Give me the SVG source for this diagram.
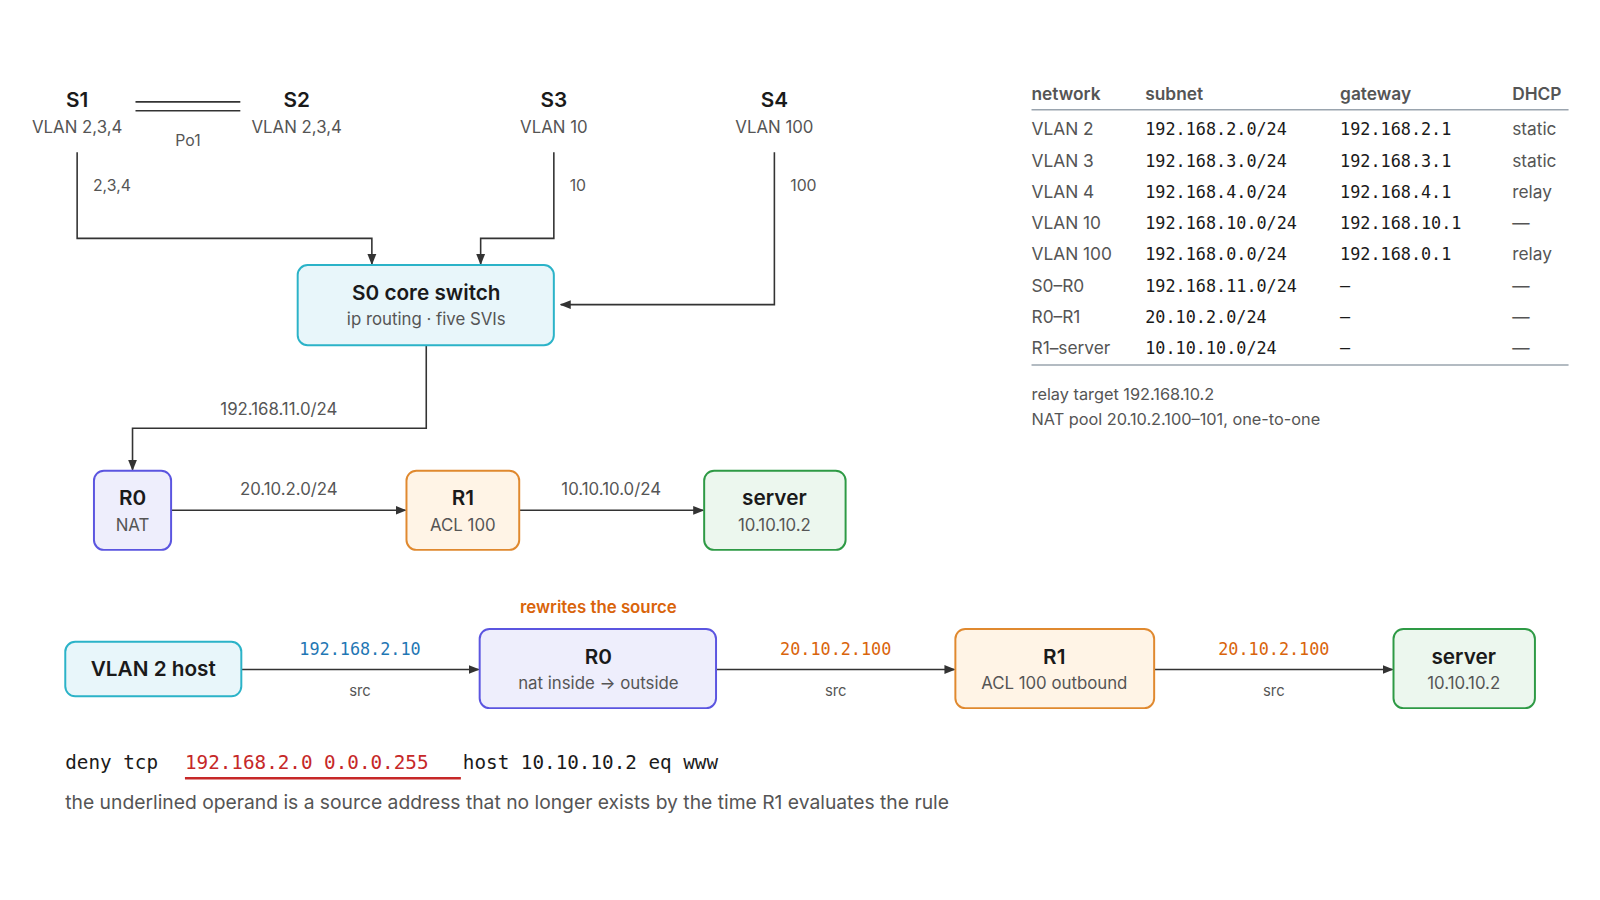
<svg xmlns="http://www.w3.org/2000/svg" width="1600" height="900" viewBox="0 0 1600 900">
<style>
text{font-family:Inter,"Noto Sans",sans-serif;fill:#333}
.t{font-size:21px;font-weight:600;fill:#1a1a1a;text-anchor:middle}
.s{font-size:17px;fill:#555;text-anchor:middle}
.l{font-size:16px;fill:#555}
.m{font-family:"DejaVu Sans Mono",monospace;font-size:17px;fill:#1a1a1a}
.tb{font-size:17.5px;fill:#555}
.th{font-size:17.5px;font-weight:600;fill:#555}
.c{fill:none;stroke:#333;stroke-width:1.6}
</style>
<defs><marker id="a" viewBox="0 0 10 10" refX="9" refY="5" markerWidth="7" markerHeight="7" orient="auto"><path d="M0,1L10,5L0,9z" fill="#333"/></marker></defs>
<rect width="1600" height="900" fill="#fff"/>
<g transform="scale(0.989)">
<g id="connectors">
<line x1="137" y1="103" x2="243" y2="103" class="c"/><line x1="137" y1="112" x2="243" y2="112" class="c"/>
<polyline points="78,154 78,241 376,241 376,267" class="c" marker-end="url(#a)"/>
<polyline points="560,154 560,241 486,241 486,267" class="c" marker-end="url(#a)"/>
<polyline points="783,154 783,308 567,308" class="c" marker-end="url(#a)"/>
<polyline points="431,349 431,433 134,433 134,475" class="c" marker-end="url(#a)"/>
<line x1="173" y1="516" x2="410" y2="516" class="c" marker-end="url(#a)"/>
<line x1="525" y1="516" x2="711" y2="516" class="c" marker-end="url(#a)"/>
<line x1="244" y1="677" x2="484" y2="677" class="c" marker-end="url(#a)"/>
<line x1="724" y1="677" x2="965" y2="677" class="c" marker-end="url(#a)"/>
<line x1="1167" y1="677" x2="1408" y2="677" class="c" marker-end="url(#a)"/>
<text x="190" y="148" class="s" style="font-size:16px">Po1</text>
<text x="94" y="193" class="l">2,3,4</text>
<text x="576" y="193" class="l">10</text>
<text x="799" y="193" class="l">100</text>
<text x="282" y="420" class="s">192.168.11.0/24</text>
<text x="292" y="501" class="s">20.10.2.0/24</text>
<text x="618" y="501" class="s">10.10.10.0/24</text>
<text x="364" y="662" class="m" text-anchor="middle" style="fill:#1f77b4">192.168.2.10</text>
<text x="845" y="662" class="m" text-anchor="middle" style="fill:#d9640b">20.10.2.100</text>
<text x="1288" y="662" class="m" text-anchor="middle" style="fill:#d9640b">20.10.2.100</text>
<text x="364" y="704" class="s" style="font-size:15px">src</text>
<text x="845" y="704" class="s" style="font-size:15px">src</text>
<text x="1288" y="704" class="s" style="font-size:15px">src</text>
</g>
<g id="S1"><text x="78" y="108" class="t">S1</text><text x="78" y="134" class="s">VLAN 2,3,4</text></g>
<g id="S2"><text x="300" y="108" class="t">S2</text><text x="300" y="134" class="s">VLAN 2,3,4</text></g>
<g id="S3"><text x="560" y="108" class="t">S3</text><text x="560" y="134" class="s">VLAN 10</text></g>
<g id="S4"><text x="783" y="108" class="t">S4</text><text x="783" y="134" class="s">VLAN 100</text></g>
<g id="S0"><rect x="301" y="268" width="259" height="81" rx="10" fill="#e8f6fa" stroke="#2bb3c8" stroke-width="2"/><text x="431" y="303" class="t">S0 core switch</text><text x="431" y="329" class="s">ip routing · five SVIs</text></g>
<g id="R0"><rect x="95" y="476" width="78" height="80" rx="10" fill="#eeeefc" stroke="#5b55e0" stroke-width="2"/><text x="134" y="511" class="t">R0</text><text x="134" y="537" class="s">NAT</text></g>
<g id="R1"><rect x="411" y="476" width="114" height="80" rx="10" fill="#fff4e6" stroke="#e0892f" stroke-width="2"/><text x="468" y="511" class="t">R1</text><text x="468" y="537" class="s">ACL 100</text></g>
<g id="server"><rect x="712" y="476" width="143" height="80" rx="10" fill="#ecf7ee" stroke="#2e9a45" stroke-width="2"/><text x="783" y="511" class="t">server</text><text x="783" y="537" class="s">10.10.10.2</text></g>
<g id="table">
<text x="1043" y="101" class="th">network</text><text x="1158" y="101" class="th">subnet</text><text x="1355" y="101" class="th">gateway</text><text x="1529" y="101" class="th">DHCP</text>
<line x1="1043" y1="111" x2="1586" y2="111" stroke="#9aa4ae" stroke-width="1.5"/>
<text x="1043" y="137" class="tb">VLAN 2</text><text x="1158" y="137" class="m">192.168.2.0/24</text><text x="1355" y="137" class="m">192.168.2.1</text><text x="1529" y="137" class="tb">static</text>
<text x="1043" y="169" class="tb">VLAN 3</text><text x="1158" y="169" class="m">192.168.3.0/24</text><text x="1355" y="169" class="m">192.168.3.1</text><text x="1529" y="169" class="tb">static</text>
<text x="1043" y="200" class="tb">VLAN 4</text><text x="1158" y="200" class="m">192.168.4.0/24</text><text x="1355" y="200" class="m">192.168.4.1</text><text x="1529" y="200" class="tb">relay</text>
<text x="1043" y="232" class="tb">VLAN 10</text><text x="1158" y="232" class="m">192.168.10.0/24</text><text x="1355" y="232" class="m">192.168.10.1</text><text x="1529" y="232" class="tb">—</text>
<text x="1043" y="263" class="tb">VLAN 100</text><text x="1158" y="263" class="m">192.168.0.0/24</text><text x="1355" y="263" class="m">192.168.0.1</text><text x="1529" y="263" class="tb">relay</text>
<text x="1043" y="295" class="tb">S0–R0</text><text x="1158" y="295" class="m">192.168.11.0/24</text><text x="1355" y="295" class="m">–</text><text x="1529" y="295" class="tb">—</text>
<text x="1043" y="327" class="tb">R0–R1</text><text x="1158" y="327" class="m">20.10.2.0/24</text><text x="1355" y="327" class="m">–</text><text x="1529" y="327" class="tb">—</text>
<text x="1043" y="358" class="tb">R1–server</text><text x="1158" y="358" class="m">10.10.10.0/24</text><text x="1355" y="358" class="m">–</text><text x="1529" y="358" class="tb">—</text>
<line x1="1043" y1="369" x2="1586" y2="369" stroke="#9aa4ae" stroke-width="1.5"/>
<text x="1043" y="404" class="tb" style="font-size:16.5px">relay target 192.168.10.2</text>
<text x="1043" y="430" class="tb" style="font-size:16.5px">NAT pool 20.10.2.100–101, one-to-one</text>
</g>
<g id="host"><rect x="66" y="649" width="178" height="55" rx="10" fill="#e8f6fa" stroke="#2bb3c8" stroke-width="2"/><text x="155" y="684" class="t">VLAN 2 host</text></g>
<g id="R0b"><text x="605" y="620" class="t" style="font-size:17px;fill:#d9640b">rewrites the source</text><rect x="485" y="636" width="239" height="80" rx="10" fill="#eeeefc" stroke="#5b55e0" stroke-width="2"/><text x="605" y="671" class="t">R0</text><text x="605" y="697" class="s">nat inside → outside</text></g>
<g id="R1b"><rect x="966" y="636" width="201" height="80" rx="10" fill="#fff4e6" stroke="#e0892f" stroke-width="2"/><text x="1066" y="671" class="t">R1</text><text x="1066" y="697" class="s">ACL 100 outbound</text></g>
<g id="serverb"><rect x="1409" y="636" width="143" height="80" rx="10" fill="#ecf7ee" stroke="#2e9a45" stroke-width="2"/><text x="1480" y="671" class="t">server</text><text x="1480" y="697" class="s">10.10.10.2</text></g>
<g id="acl">
<text x="66" y="778" class="m" style="font-size:19.5px">deny tcp</text>
<text x="187" y="778" class="m" style="font-size:19.5px;fill:#c62828">192.168.2.0 0.0.0.255</text>
<text x="468" y="778" class="m" style="font-size:19.5px">host 10.10.10.2 eq www</text>
<line x1="187" y1="787" x2="466" y2="787" stroke="#c62828" stroke-width="2.5"/>
<text x="66" y="818" class="tb" style="font-size:19.5px">the underlined operand is a source address that no longer exists by the time R1 evaluates the rule</text>
</g>
</g>
</svg>
